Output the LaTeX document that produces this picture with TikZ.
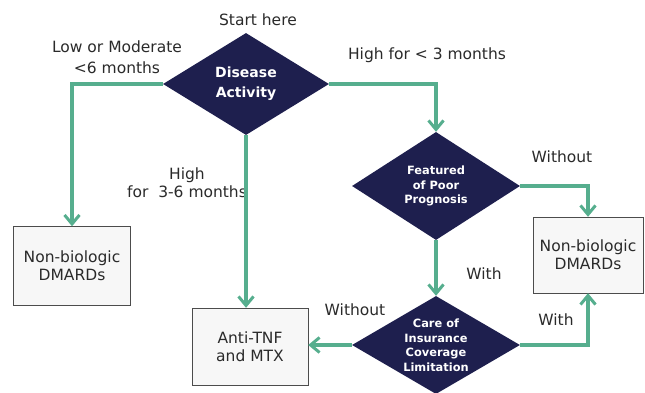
\documentclass[tikz,border=0pt]{standalone}
\usepackage{fontspec}
\setmainfont{DejaVu Sans}
\usetikzlibrary{shapes.geometric,arrows.meta}
\definecolor{navy}{HTML}{1E1F4E}
\definecolor{flow}{HTML}{56AE8E}
\definecolor{ink}{HTML}{2A2A2A}
\begin{document}
\begin{tikzpicture}[x=1pt, y=-1pt,
		    decision/.style={diamond, fill=navy, text=white, inner sep=0pt, aspect=1.7, align=center, font=\bfseries\fontsize{11.4}{14.5}\selectfont},
		    treat/.style={rectangle, draw=black!70, fill=black!3, align=center, font=\fontsize{15.5}{18}\selectfont, text=ink},
		    lbl/.style={align=center, text=ink, font=\fontsize{15.5}{21}\selectfont},
		    flowline/.style={draw=flow, line width=3.2pt, -{Straight Barb[length=9pt, width=15pt, line width=3pt]}}]
		    \useasboundingbox (0, 0) rectangle (645, 393);
		    \node (disease) at (246, 84) [decision, minimum width=166, minimum height=102, font=\bfseries\fontsize{14}{20}\selectfont] {Disease\\Activity};
		    \node (prognosis) at (436, 186) [decision, minimum width=168, minimum height=108] {Featured\\of Poor\\Prognosis};
		    \node (insurance) at (436, 345) [decision, minimum width=168, minimum height=98] {Care of\\Insurance\\Coverage\\Limitation};
		    \node (dmardsL) at (72, 266) [treat, minimum width=117, minimum height=79] {Non-biologic\\DMARDs};
		    \node (antitnf) at (250, 346.5) [treat, minimum width=116, minimum height=77] {Anti-TNF\\and MTX};
		    \node (dmardsR) at (588, 255) [treat, minimum width=110, minimum height=76] {Non-biologic\\DMARDs};
		    
		    \node (start) at (258, 20) [lbl] {Start here};
		    \node (lowmod) at (117, 57) [lbl] {Low or Moderate\\<6 months};
		    \node (high36) at (187, 183) [lbl, font=\fontsize{15.5}{18}\selectfont] {High\\for\ \ 3-6 months};
		    \node (high3) at (427, 55) [lbl] {High for < 3 months};
		    \node (withoutP) at (562, 157) [lbl] {Without};
		    \node (withP) at (484, 274) [lbl] {With};
		    \node (withoutI) at (355, 310) [lbl] {Without};
		    \node (withI) at (556, 320) [lbl] {With};
		    
		    \draw [flowline] (disease.west) -| (dmardsL.north);
		    \draw [flowline] (disease.south) -- (disease.south |- antitnf.north);
		    \draw [flowline] (disease.east) -| (prognosis.north);
		    \draw [flowline] (prognosis.east) -| (dmardsR.north);
		    \draw [flowline] (prognosis.south) -- (insurance.north);
		    \draw [flowline] (insurance.west) -- (insurance.west -| antitnf.east);
		    \draw [flowline] (insurance.east) -| (dmardsR.south);
		\end{tikzpicture}
\end{document}
